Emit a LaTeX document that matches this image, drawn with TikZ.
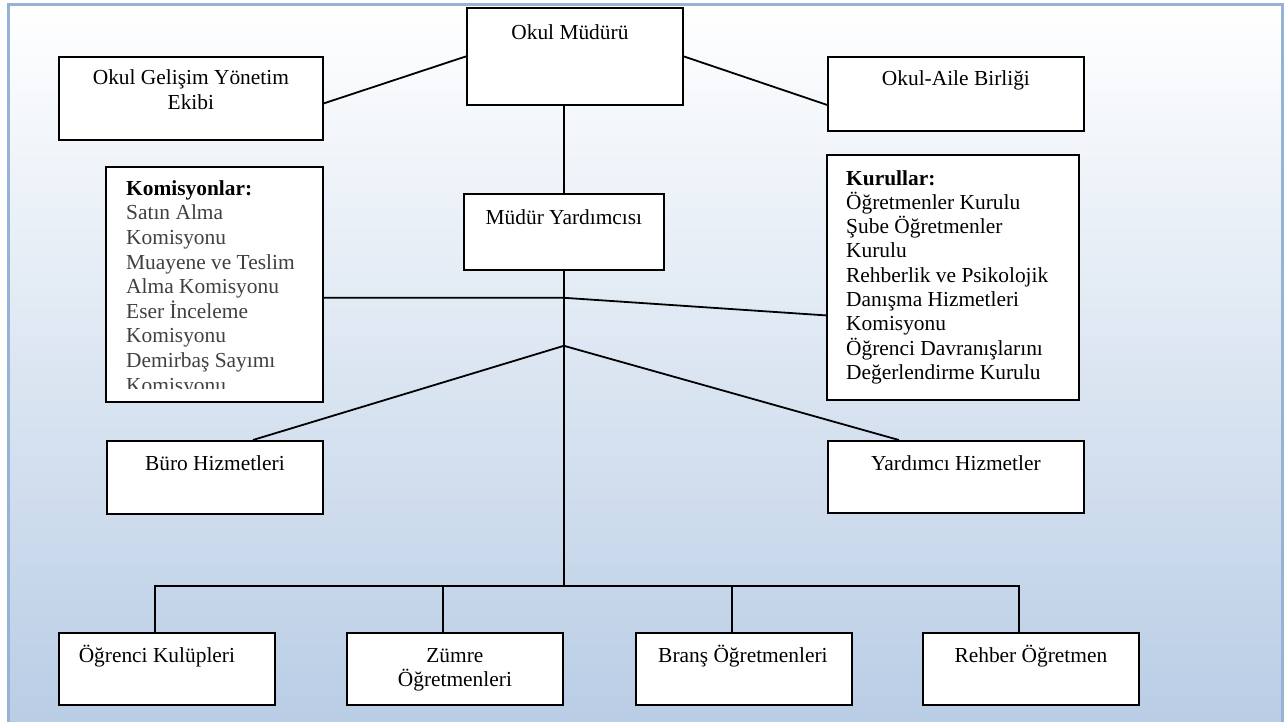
\documentclass[tikz,border=0pt]{standalone}
\usepackage{fontspec}
\setmainfont{Liberation Serif}
\usetikzlibrary{positioning}
\definecolor{bgblue}{RGB}{185,205,229}
\definecolor{framecol}{RGB}{149,179,215}
\definecolor{komgray}{RGB}{64,64,64}

\begin{document}
\begin{tikzpicture}[x=1pt,y=-1pt,
  box/.style={draw, fill=white, line width=1.8pt, anchor=north west, inner sep=0pt},
  txt/.style={font=\fontsize{21.4}{24.3}\selectfont, inner sep=0pt, anchor=base, align=center},
  link/.style={line width=1.8pt}]
\useasboundingbox (0,0) rectangle (1285,722);
\shade[top color=white, bottom color=bgblue] (8,5) rectangle (1282,722);
\draw[framecol, line width=3pt] (8,740) -- (8,5) -- (1282,5) -- (1282,740);

\node[box, minimum width=216pt, minimum height=97pt] (mudur) at (466,7) {};
\node[box, minimum width=264pt, minimum height=83pt] (gelisim) at (58,56) {};
\node[box, minimum width=256pt, minimum height=74pt] (aile) at (827,56) {};
\node[box, minimum width=200pt, minimum height=76pt] (yard) at (463,193) {};
\node[box, minimum width=217pt, minimum height=235pt] (kom) at (105,166) {};
\node[box, minimum width=252pt, minimum height=245pt] (kur) at (826,154) {};
\node[box, minimum width=216pt, minimum height=73pt] (buro) at (106,440) {};
\node[box, minimum width=256pt, minimum height=72pt] (yardh) at (827,440) {};
\node[box, minimum width=216pt, minimum height=72pt] (ogr) at (58,632) {};
\node[box, minimum width=216pt, minimum height=72pt] (zum) at (346,632) {};
\node[box, minimum width=216pt, minimum height=72pt] (bra) at (635,632) {};
\node[box, minimum width=216pt, minimum height=72pt] (reh) at (922,632) {};

% multi-line texts sit on the baseline of their last line
\node[txt] (mudurL) at ([xshift=-5pt,yshift=-33pt]mudur.north) {Okul Müdürü};
\node[txt] (gelisimL) at ([yshift=-53.3pt]gelisim.north) {Okul Gelişim Yönetim\\Ekibi};
\node[txt] (aileL) at ([yshift=-30pt]aile.north) {Okul-Aile Birliği};
\node[txt] (yardL) at ([yshift=-32pt]yard.north) {Müdür Yardımcısı};
\begin{scope}
  \clip (kom.north west) rectangle ([yshift=14pt]kom.south east);
  \node[txt, anchor=base west, align=left, font=\fontsize{21.4}{24.6}\selectfont] (komL)
    at ([xshift=21pt,yshift=-226pt]kom.north west)
    {\textbf{Komisyonlar:}\\\color{komgray}Satın Alma\\\color{komgray}Komisyonu\\
     \color{komgray}Muayene ve Teslim\\\color{komgray}Alma Komisyonu\\\color{komgray}Eser İnceleme\\
     \color{komgray}Komisyonu\\\color{komgray}Demirbaş Sayımı\\\color{komgray}Komisyonu};
\end{scope}
\node[txt, anchor=base west, align=left] (kurL) at ([xshift=20pt,yshift=-225.4pt]kur.north west)
  {\textbf{Kurullar:}\\Öğretmenler Kurulu\\Şube Öğretmenler\\Kurulu\\Rehberlik ve Psikolojik\\
   Danışma Hizmetleri\\Komisyonu\\Öğrenci Davranışlarını\\Değerlendirme Kurulu};
\node[txt] (buroL) at ([yshift=-30pt]buro.north) {Büro Hizmetleri};
\node[txt] (yardhL) at ([yshift=-30pt]yardh.north) {Yardımcı Hizmetler};
\node[txt] (ogrL) at ([xshift=-10pt,yshift=-30pt]ogr.north) {Öğrenci Kulüpleri};
\node[txt] (zumL) at ([yshift=-54.3pt]zum.north) {Zümre\\Öğretmenleri};
\node[txt] (braL) at ([xshift=-1pt,yshift=-30pt]bra.north) {Branş Öğretmenleri};
\node[txt] (rehL) at ([yshift=-30pt]reh.north) {Rehber Öğretmen};

\coordinate (j1) at ([yshift=-27pt]yard.south);
\coordinate (j2) at ([yshift=-75pt]yard.south);
\coordinate (bus) at ([yshift=-315pt]yard.south);
\draw[link] ([yshift=-5pt]gelisim.east) -- (mudur.west);
\draw[link] (mudur.east) -- ([yshift=-11pt]aile.west);
\draw[link] (yard.north |- mudur.south) -- (yard.north);
\draw[link] (yard.south) -- (bus);
\draw[link] (kom.east |- j1) -- (j1) -- ([yshift=-38pt]kur.west);
\draw[link] ([xshift=38pt]buro.north) -- (j2) -- ([xshift=-57pt]yardh.north);
\foreach \n in {ogr,zum,bra,reh}
  \draw[link] ([xshift=-12pt]\n.north) |- (bus);
\end{tikzpicture}
\end{document}
